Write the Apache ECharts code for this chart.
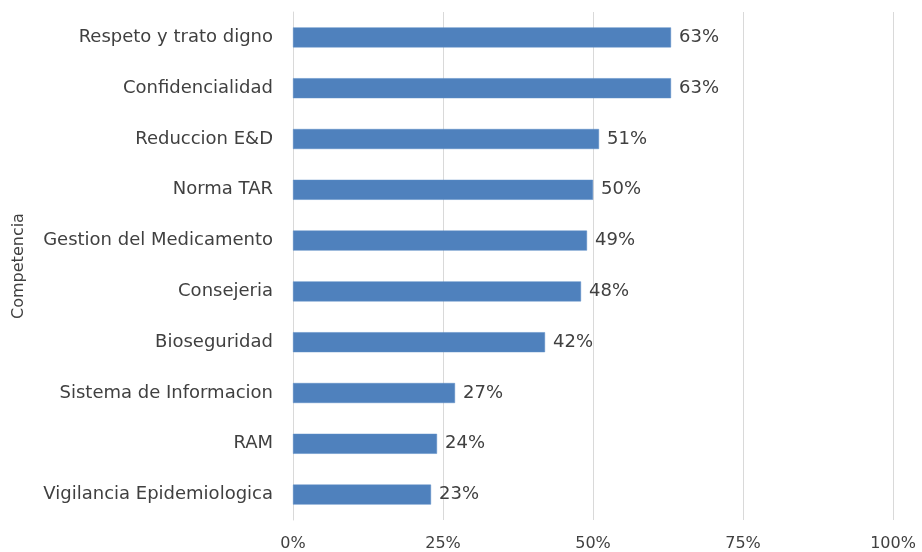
<!DOCTYPE html>
<html>
<head>
<meta charset="utf-8">
<script src="https://cdn.jsdelivr.net/npm/echarts@6/dist/echarts.min.js"></script>
<style>
  html, body { margin: 0; padding: 0; background: #ffffff; }
  #chart { width: 922px; height: 552px; }
</style>
</head>
<body>
<div id="chart"></div>
<script>
// Competencias, listed from bottom to top of the chart
const categories = [
  'Vigilancia Epidemiologica',
  'RAM',
  'Sistema de Informacion',
  'Bioseguridad',
  'Consejeria',
  'Gestion del Medicamento',
  'Norma TAR',
  'Reduccion E&D',
  'Confidencialidad',
  'Respeto y trato digno'
];
// Percentage per competencia
const values = [23, 24, 27, 42, 48, 49, 50, 51, 63, 63];
const xTicks = [0, 25, 50, 75, 100];

const FONT = 'DejaVu Sans';
const TEXT = '#404040';

const chart = echarts.init(document.getElementById('chart'), null, { renderer: 'canvas' });
chart.setOption({
  animation: false,
  textStyle: { fontFamily: FONT },
  grid: { left: 293, right: 29, top: 12, bottom: 32, containLabel: false },
  xAxis: {
    type: 'value',
    min: xTicks[0],
    max: xTicks[xTicks.length - 1],
    interval: 25,
    axisLine: { show: false },
    axisTick: { show: false },
    splitLine: { show: true, lineStyle: { color: '#d9d9d9', width: 1 } },
    axisLabel: {
      formatter: v => v + '%',
      color: TEXT,
      fontFamily: FONT,
      fontSize: 16,
      margin: 16
    }
  },
  yAxis: {
    type: 'category',
    data: categories,
    name: 'Competencia',
    nameLocation: 'middle',
    nameGap: 266,
    nameRotate: 90,
    nameTextStyle: { color: TEXT, fontFamily: FONT, fontSize: 16 },
    axisLine: { show: true, lineStyle: { color: '#d9d9d9', width: 1 } },
    axisTick: { show: false },
    axisLabel: { color: TEXT, fontFamily: FONT, fontSize: 18, margin: 20 }
  },
  series: [{
    type: 'bar',
    data: values,
    barWidth: 20,
    itemStyle: { color: '#4f81bd', borderColor: '#5b8cc6', borderWidth: 0.5 },
    label: {
      show: true,
      position: 'right',
      distance: 8,
      formatter: p => p.value + '%',
      color: TEXT,
      fontFamily: FONT,
      fontSize: 18
    }
  }]
});
</script>
</body>
</html>
